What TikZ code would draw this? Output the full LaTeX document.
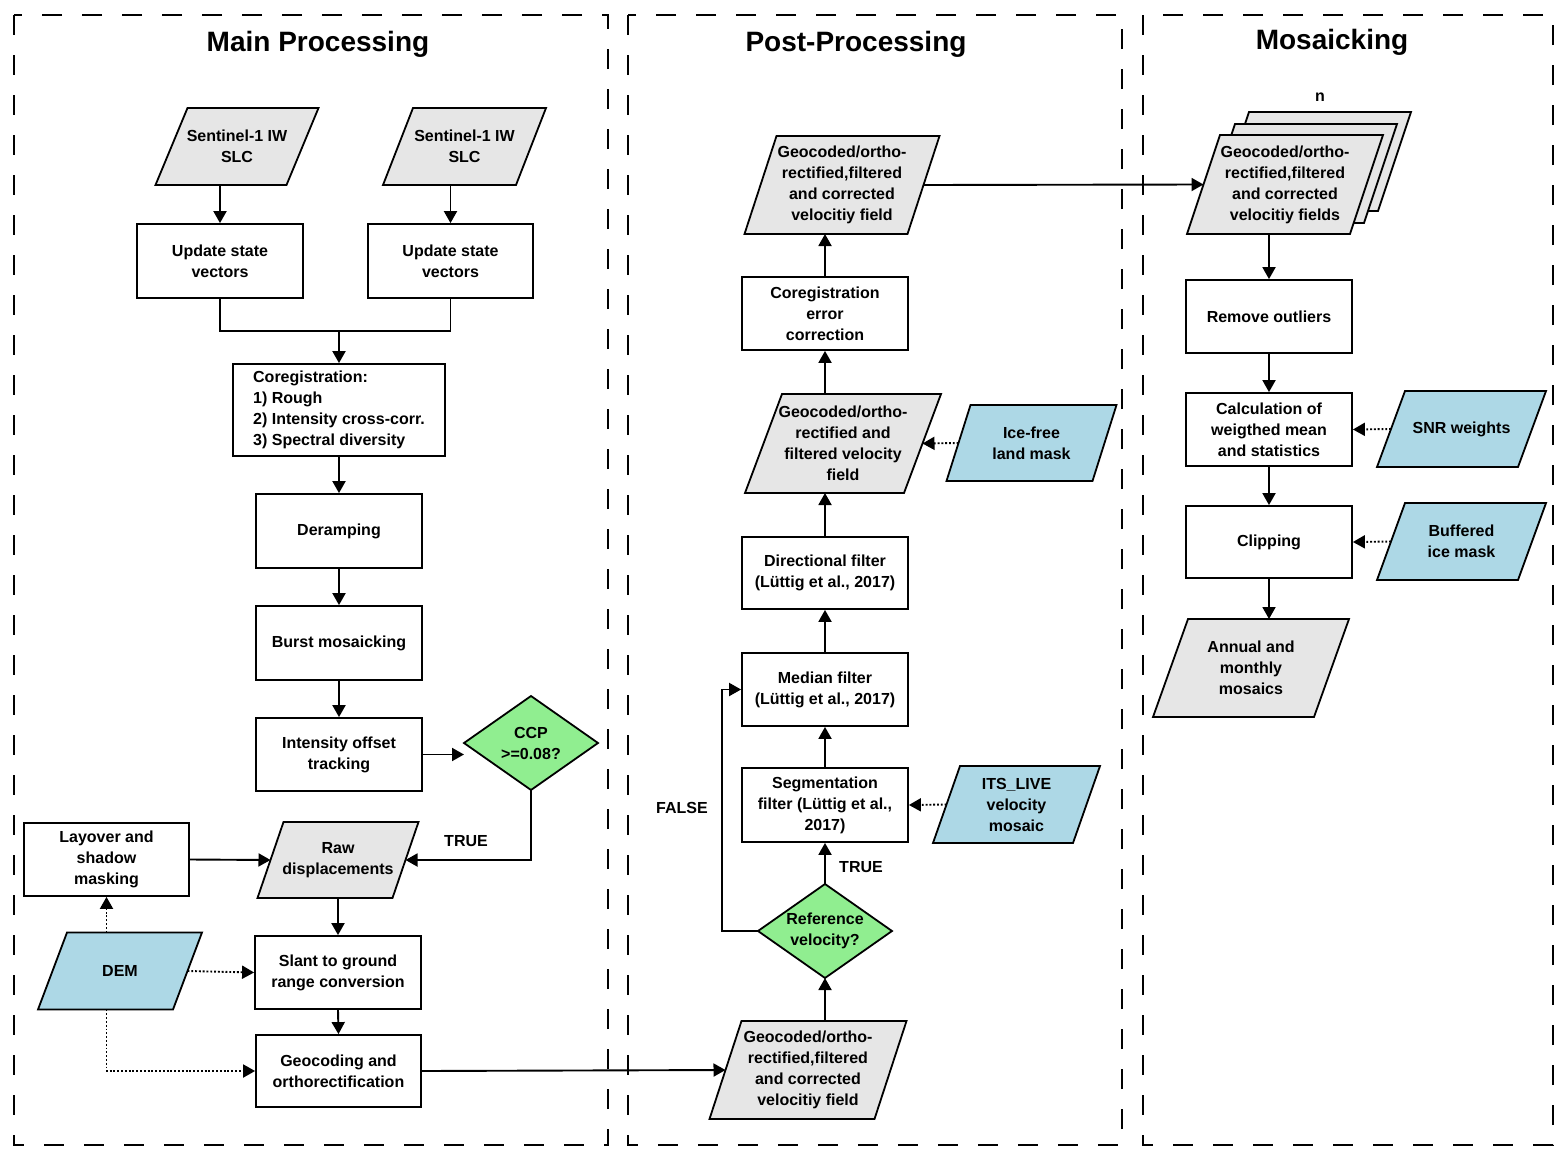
\documentclass[tikz,border=0pt]{standalone}
\usepackage{fontspec}
\setmainfont{Liberation Sans}
\usetikzlibrary{arrows.meta}
\definecolor{gfill}{HTML}{E6E6E6}
\definecolor{bfill}{HTML}{ADD8E6}
\definecolor{dfill}{HTML}{90EE90}
\tikzset{
 txt/.style={font=\fontsize{16}{21}\selectfont\bfseries, align=center, inner sep=0pt, outer sep=0pt},
 box/.style={draw=black, line width=1.8pt},
 rbox/.style={txt, box, fill=white, outer sep=0.9pt},
 arr/.style={line width=1.9pt, -{Triangle[length=12pt,width=13pt]}},
 darr/.style={arr, dash pattern=on 1.9pt off 1.9pt},
 plain/.style={line width=1.9pt},
 panel/.style={line width=2pt, dash pattern=on 20pt off 20pt},
 title/.style={font=\fontsize{28}{32}\selectfont\bfseries, inner sep=0pt}
}
% name, cx, cy, w, h, skew, fill, text
\newcommand{\parag}[8]{%
  \draw[box,fill=#7,line join=miter] ({#2-#4/2+#6/2},{#3-#5/2}) -- ({#2+#4/2+#6/2},{#3-#5/2}) -- ({#2+#4/2-#6/2},{#3+#5/2}) -- ({#2-#4/2-#6/2},{#3+#5/2}) -- cycle;
  \node[txt,minimum width=#4pt,minimum height=#5pt] (#1) at (#2,#3) {#8};
}
\newcommand{\diam}[6]{% name, cx, cy, w, h, text
  \node[txt,minimum width=#4pt,minimum height=#5pt] (#1) at (#2,#3) {};
  \draw[box,fill=dfill] (#1.north) -- (#1.east) -- (#1.south) -- (#1.west) -- cycle;
  \node[txt] at (#1.center) {#6};
}
\begin{document}
\begin{tikzpicture}[x=1pt,y=-1pt]
\useasboundingbox (0,0) rectangle (1566,1159);
% panels
\draw[panel] (14,15) rectangle (608,1145);
\draw[panel] (628,15) rectangle (1122,1145);
\draw[panel] (1143,15) rectangle (1553,1145);
\node[title] (t1) at (318,44) {Main Processing};
\node[title] (t2) at (856,44) {Post-Processing};
\node[title] (t3) at (1332,42) {Mosaicking};

% ---------- Main processing ----------
\parag{s1}{237}{146.5}{131}{77}{32}{gfill}{Sentinel-1 IW\\SLC}
\parag{s2}{464.5}{146.5}{133}{77}{30}{gfill}{Sentinel-1 IW\\SLC}
\node[rbox,minimum width=166pt,minimum height=74pt] (u1) at (220,261) {Update state\\vectors};
\node[rbox,minimum width=165pt,minimum height=74pt] (u2) at (450.5,261) {Update state\\vectors};
\node[rbox,minimum width=212pt,minimum height=92pt,align=left] (cor) at (339,410) {Coregistration:\\1) Rough\\2) Intensity cross-corr.\\3) Spectral diversity};
\node[rbox,minimum width=166pt,minimum height=74pt] (der) at (339,531) {Deramping};
\node[rbox,minimum width=166pt,minimum height=74pt] (bur) at (339,643) {Burst mosaicking};
\node[rbox,minimum width=166pt,minimum height=73pt] (iot) at (339,754.5) {Intensity offset\\tracking};
\diam{ccp}{531}{743}{134}{94}{CCP\\>=0.08?}
\parag{raw}{338}{860}{135}{76}{26}{gfill}{Raw\\displacements}
\node[rbox,minimum width=165pt,minimum height=73pt] (lay) at (106.5,859.5) {Layover and\\shadow\\masking};
\parag{dem}{120}{971}{135}{77}{29}{bfill}{DEM}
\node[rbox,minimum width=166pt,minimum height=73pt] (sla) at (338,972.5) {Slant to ground\\range conversion};
\node[rbox,minimum width=165pt,minimum height=72pt] (geo) at (338.5,1071) {Geocoding and\\orthorectification};
\node[txt] (truel) at (466,841) {TRUE};

\coordinate (junc) at (339,331);
\draw[arr] (u1.north |- s1.south) -- (u1.north);
\draw[arr] (u2.north |- s2.south) -- (u2.north);
\draw[plain] (u1.south) |- (junc) -| (u2.south);
\draw[arr] (junc) -- (cor.north);
\draw[arr] (cor.south) -- (der.north);
\draw[arr] (der.south) -- (bur.north);
\draw[arr] (bur.south) -- (iot.north);
\draw[arr] (iot.east) -- (iot.east -| ccp.west);
\draw[arr] (ccp.south) |- (raw.east);
\draw[arr] (lay.east) -- (raw.west);
\draw[arr] (raw.south) -- (sla.north);
\draw[arr] (sla.south) -- (geo.north);
\draw[darr] (lay.south |- dem.north) -- (lay.south);
\draw[darr] (dem.east) -- (sla.west);
\draw[darr] (lay.south |- dem.south) |- (geo.west);

% ---------- Post-processing ----------
\parag{g1}{808}{1070}{165}{98}{32}{gfill}{Geocoded/ortho-\\rectified,filtered\\and corrected\\velocitiy field}
\diam{ref}{825}{931}{134}{94}{Reference\\velocity?}
\node[rbox,minimum width=166pt,minimum height=74pt] (seg) at (825,805) {Segmentation\\filter (Lüttig et al.,\\2017)};
\parag{its}{1016.5}{804.5}{140}{77}{27}{bfill}{ITS\_LIVE\\velocity\\mosaic}
\node[rbox,minimum width=166pt,minimum height=73pt] (med) at (825,689.5) {Median filter\\(Lüttig et al., 2017)};
\node[rbox,minimum width=166pt,minimum height=72pt] (dir) at (825,573) {Directional filter\\(Lüttig et al., 2017)};
\parag{g2}{843}{443.5}{159}{99}{37}{gfill}{Geocoded/ortho-\\rectified and\\filtered velocity\\field}
\parag{ice}{1031.5}{443}{146}{76}{24}{bfill}{Ice-free\\land mask}
\node[rbox,minimum width=166pt,minimum height=73pt] (cer) at (825,313.5) {Coregistration\\error\\correction};
\parag{g3}{842}{185}{163}{98}{32}{gfill}{Geocoded/ortho-\\rectified,filtered\\and corrected\\velocitiy field}
\node[txt] (truer) at (861,867) {TRUE};
\node[txt] (falsel) at (682,808) {FALSE};

\draw[arr] (geo.east) -- (g1.west);
\draw[arr] (ref.south |- g1.north) -- (ref.south);
\draw[arr] (ref.north) -- (seg.south);
\draw[arr] (seg.north) -- (med.south);
\draw[arr] (med.north) -- (dir.south);
\draw[arr] (dir.north) -- (dir.north |- g2.south);
\draw[arr] (cer.south |- g2.north) -- (cer.south);
\draw[arr] (cer.north) -- (cer.north |- g3.south);
\draw[arr] (ref.west) -- ++(-36,0) |- (med.west);
\draw[darr] (its.west) -- (seg.east);
\draw[darr] (ice.west) -- (g2.east);

% ---------- Mosaicking ----------
\draw[box,fill=gfill] (1249,112) -- (1411,112) -- (1378,211) -- (1216,211) -- cycle;
\draw[box,fill=gfill] (1235,124) -- (1397,124) -- (1364,223) -- (1202,223) -- cycle;
\parag{stk}{1285}{184.5}{163}{99}{33}{gfill}{Geocoded/ortho-\\rectified,filtered\\and corrected\\velocitiy fields}
\node[txt] (nlab) at (1320,97) {n};
\node[rbox,minimum width=166pt,minimum height=73pt] (ro) at (1269,316.5) {Remove outliers};
\node[rbox,minimum width=166pt,minimum height=73pt] (calc) at (1269,429.5) {Calculation of\\weigthed mean\\and statistics};
\node[rbox,minimum width=166pt,minimum height=72pt] (clip) at (1269,542) {Clipping};
\parag{snr}{1461.5}{429}{141}{76}{28}{bfill}{SNR weights}
\parag{buf}{1461.5}{541.5}{141}{77}{28}{bfill}{Buffered\\ice mask}
\parag{ann}{1251}{668}{161}{98}{35}{gfill}{Annual and\\monthly\\mosaics}

\draw[arr] (g3.east) -- (stk.west);
\draw[arr] (ro.north |- stk.south) -- (ro.north);
\draw[arr] (ro.south) -- (calc.north);
\draw[arr] (calc.south) -- (clip.north);
\draw[arr] (clip.south) -- (clip.south |- ann.north);
\draw[darr] (snr.west) -- (calc.east);
\draw[darr] (buf.west) -- (clip.east);
\end{tikzpicture}
\end{document}
